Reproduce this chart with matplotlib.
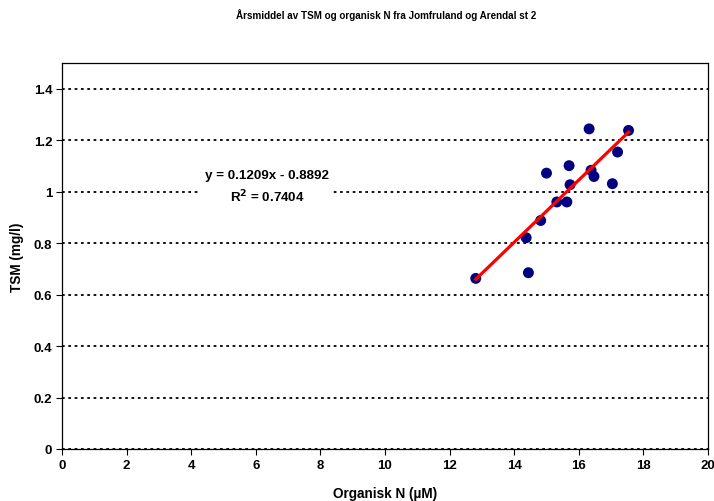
import numpy as np
from matplotlib import pyplot as plt

plt.rcParams['font.family'] = ['Liberation Sans', 'DejaVu Sans']
plt.rcParams['font.weight'] = 'bold'

# Organisk N (uM) and TSM (mg/l), annual means
org_n = [12.81, 14.44, 14.37, 14.82, 15.00, 15.32, 15.63, 15.73, 15.70,
         16.32, 16.38, 16.47, 17.04, 17.20, 17.54]
tsm = [0.663, 0.685, 0.821, 0.888, 1.072, 0.960, 0.960, 1.027, 1.101,
       1.244, 1.083, 1.059, 1.031, 1.154, 1.238]

slope = 0.1209
intercept = -0.8892
r2 = 0.7404

x_ticks = list(range(0, 21, 2))
y_ticks = [0, 0.2, 0.4, 0.6, 0.8, 1, 1.2, 1.4]
y_tick_labels = ['0', '0.2', '0.4', '0.6', '0.8', '1', '1.2', '1.4']


def _finish_plt(ax):
    ax.set_xlim(0, 20)
    ax.set_ylim(0, 1.5)
    ax.set_xticks(x_ticks)
    ax.set_yticks(y_ticks)
    ax.set_yticklabels(y_tick_labels)
    ax.tick_params(direction='out', length=4, width=0.8, labelsize=9.5, pad=3)
    ax.yaxis.grid(True, color='black', linestyle=(0, (1.5, 2.0)), linewidth=1.3)
    ax.set_axisbelow(True)
    for s in ax.spines.values():
        s.set_linewidth(0.9)
        s.set_zorder(3)
    ax.set_xlabel('Organisk N (\u00b5M)', fontsize=9.8, fontweight='bold', labelpad=11)
    ax.set_ylabel('TSM (mg/l)', fontsize=9.8, fontweight='bold', labelpad=7)


fig = plt.figure(figsize=(7.14, 5.02), dpi=100)
ax = fig.add_axes([0.0868, 0.1036, 0.9048, 0.7689])

ax.scatter(org_n, tsm, s=62, color='#000080', zorder=3, edgecolors='none')

x_fit = np.array([min(org_n), max(org_n)])
ax.plot(x_fit, np.polyval([slope, intercept], x_fit), color='#ff0000',
        linewidth=2.3, zorder=4)

ax.text(6.35, 1.02, 'y = %.4fx - %.4f\nR$^2$ = %.4f' % (slope, -intercept, r2),
        ha='center', va='center', fontsize=9.6, fontweight='bold', linespacing=1.45,
        bbox=dict(facecolor='white', edgecolor='none', pad=3), zorder=5)

fig.text(0.541, 0.97, 'Årsmiddel av TSM og organisk N fra Jomfruland og Arendal st 2',
         ha='center', va='center', fontsize=7.1, fontweight='bold')

_finish_plt(ax)
fig.savefig('out.png', dpi=100)
